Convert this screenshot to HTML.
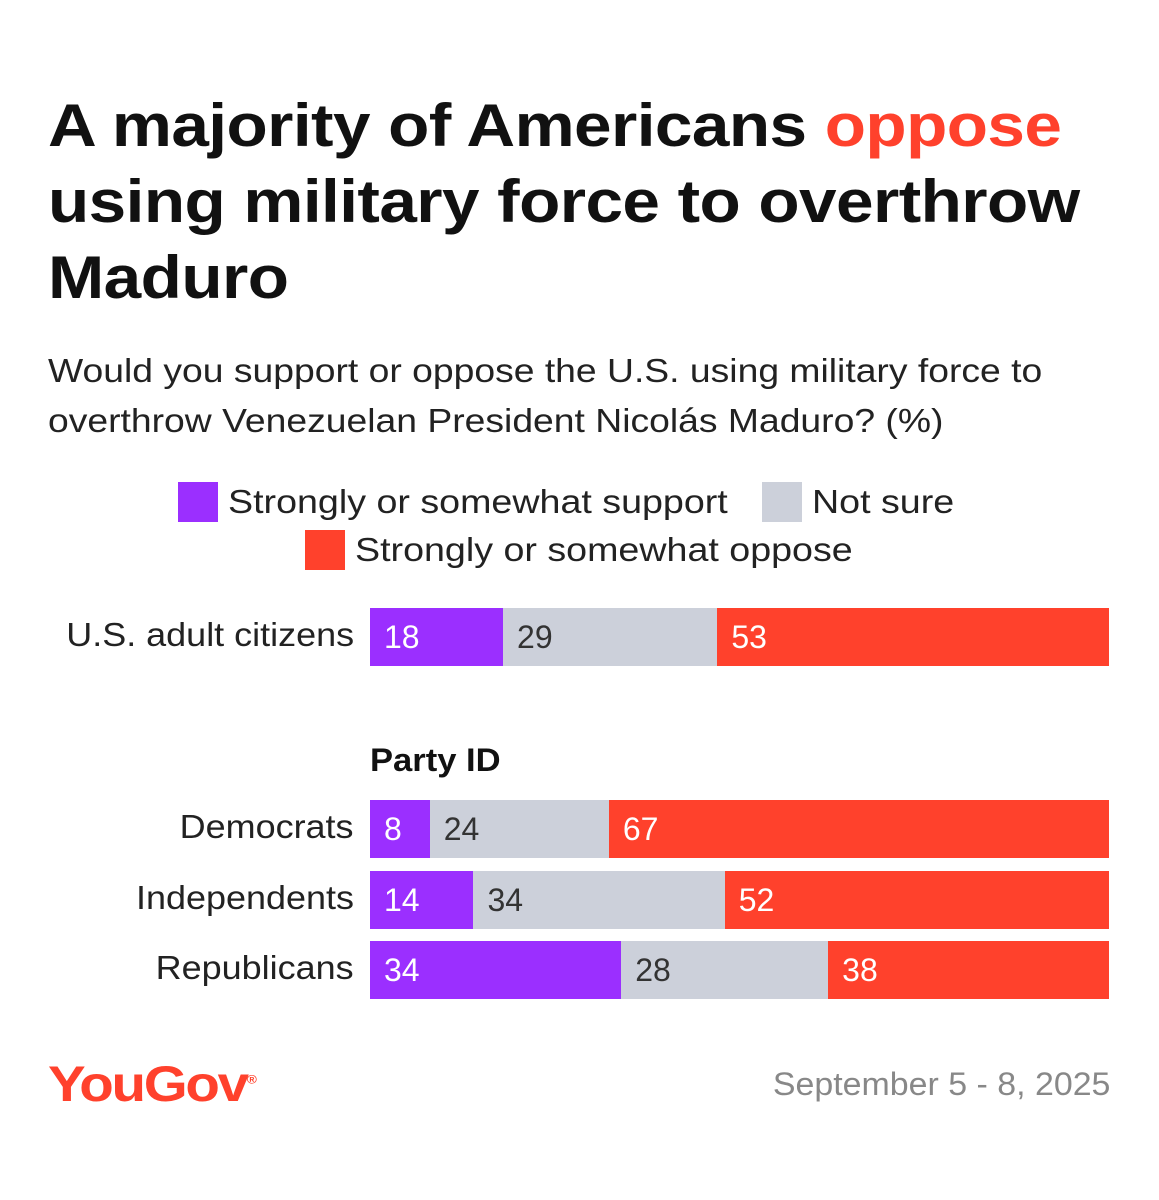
<!DOCTYPE html>
<html><head><meta charset="utf-8">
<style>
body{margin:0;width:1159px;height:1200px;background:#fff;font-family:"Liberation Sans",sans-serif;position:relative;overflow:hidden;color:#111}
.title{position:absolute;left:48px;top:88px;font-size:60px;font-weight:bold;line-height:76px;letter-spacing:-0.5px;color:#111;transform:scaleX(1.125);transform-origin:left top;white-space:nowrap}
.sub{position:absolute;left:48px;top:346px;font-size:33px;line-height:50px;color:#222;transform:scaleX(1.13);transform-origin:left top;white-space:nowrap}
.leg{position:absolute;font-size:33px;color:#222;display:flex;align-items:center;white-space:nowrap}
.leg span.t{display:inline-block;transform:scaleX(1.14);transform-origin:left center}
.sw{width:40px;height:40px;margin-right:10px;display:inline-block}
.lab{position:absolute;right:805px;font-size:33px;color:#222;text-align:right;white-space:nowrap;transform:scaleX(1.09);transform-origin:right center}
.seg{position:absolute;height:58px;font-size:32px;line-height:58px;box-sizing:border-box;padding-left:14px}
</style></head><body>
<div class="title">A majority of Americans <span style="color:#ff412c">oppose</span><br>using military force to overthrow<br>Maduro</div>
<div class="sub">Would you support or oppose the U.S. using military force to<br>overthrow Venezuelan President Nicolás Maduro? (%)</div>
<div class="leg" style="left:178px;top:482px"><span class="sw" style="background:#9b2fff"></span><span class="t">Strongly or somewhat support</span></div>
<div class="leg" style="left:762px;top:482px"><span class="sw" style="background:#ccd0da"></span><span class="t">Not sure</span></div>
<div class="leg" style="left:305px;top:530px"><span class="sw" style="background:#ff412c"></span><span class="t">Strongly or somewhat oppose</span></div>
<div style="position:absolute;left:370px;top:742px;font-size:32px;font-weight:bold;transform:scaleX(1.08);transform-origin:left top">Party ID</div>
<div id="chart"></div>
<div style="position:absolute;left:48px;top:1055px;font-size:50px;font-weight:bold;color:#ff412c;letter-spacing:-2px;transform:scaleX(1.13);transform-origin:left top">YouGov<sup style="font-size:12px">®</sup></div>
<div style="position:absolute;right:49px;top:1066px;font-size:32px;color:#888;transform:scaleX(1.06);transform-origin:right top">September 5 - 8, 2025</div>
<script>
const categories=["U.S. adult citizens","Democrats","Independents","Republicans"];
const support=[18,8,14,34];
const notSure=[29,24,34,28];
const oppose=[53,67,52,38];
const rowTops=[608,800,871,941];
const x0=370,W=739;
const xs=v=>v/100*W;
const colors=["#9b2fff","#ccd0da","#ff412c"];
const txt=["#fff","#333","#fff"];
const names=["support","not-sure","oppose"];
const c=document.getElementById('chart');
categories.forEach((cat,i)=>{
  const l=document.createElement('div');l.className='lab';
  l.style.top=(rowTops[i]+8)+'px';l.textContent=cat;
  
  
  c.appendChild(l);
  const vals=[support[i],notSure[i],oppose[i]];
  const tot=vals.reduce((a,b)=>a+b,0);
  let acc=0;
  vals.forEach((v,j)=>{
    const s=document.createElement('div');s.className='seg';
    s.style.left=(x0+xs(acc/tot*100))+'px';
    s.style.width=xs(v/tot*100)+'px';
    s.style.top=rowTops[i]+'px';
    s.style.background=colors[j];s.style.color=txt[j];
    s.textContent=v;
    
    
    c.appendChild(s);acc+=v;
  });
});
</script>
</body></html>
